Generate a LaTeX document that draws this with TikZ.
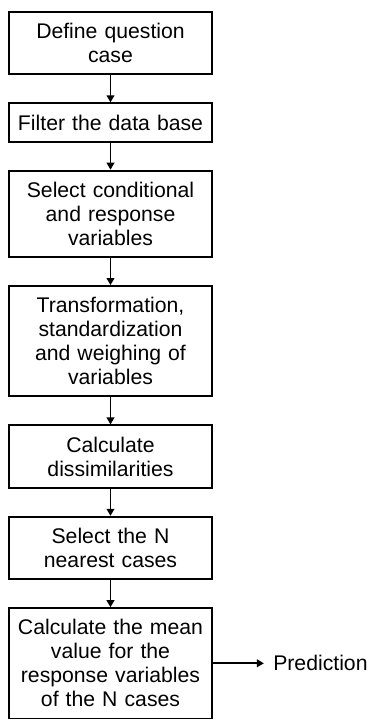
\documentclass[tikz,border=0pt]{standalone}
\usepackage{fontspec}
\setmainfont{Liberation Sans}
\usepackage{tikz}
\usetikzlibrary{arrows.meta, positioning}

\begin{document}
\begin{tikzpicture}[
    box/.style={rectangle, draw, line width=0.9pt, minimum width=101.5pt, text width=98pt, inner xsep=1.75pt, inner ysep=5.7pt, align=center, font=\fontsize{10.6}{12}\selectfont},
    arrow/.style={-{Triangle[length=3.5pt, width=3.8pt]}, line width=0.9pt},
    node distance=13.6pt
]
    \useasboundingbox (0,0) rectangle (190pt,-360pt);

    % main chain
    \node[box, anchor=north] (question) at (55.25pt,-5.5pt) {Define question\\case};
    \node[box, below=of question] (filter) {Filter the data base};
    \node[box, below=of filter] (select) {Select conditional\\and response\\variables};
    \node[box, below=of select] (transform) {Transformation,\\standardization\\and weighing of\\variables};
    \node[box, below=of transform] (dissim) {Calculate\\dissimilarities};
    \node[box, below=of dissim] (nearest) {Select the N\\nearest cases};
    \node[box, below=of nearest] (mean) {Calculate the mean\\value for the\\response variables\\of the N cases};

    % output
    \node[right=25.5pt of mean, inner xsep=4.5pt, font=\fontsize{10.6}{12}\selectfont] (pred) {Prediction};

    % Arrows
    \draw[arrow] (question) -- (filter);
    \draw[arrow] (filter) -- (select);
    \draw[arrow] (select) -- (transform);
    \draw[arrow] (transform) -- (dissim);
    \draw[arrow] (dissim) -- (nearest);
    \draw[arrow] (nearest) -- (mean);
    \draw[arrow] (mean) -- (pred);
\end{tikzpicture}
\end{document}
